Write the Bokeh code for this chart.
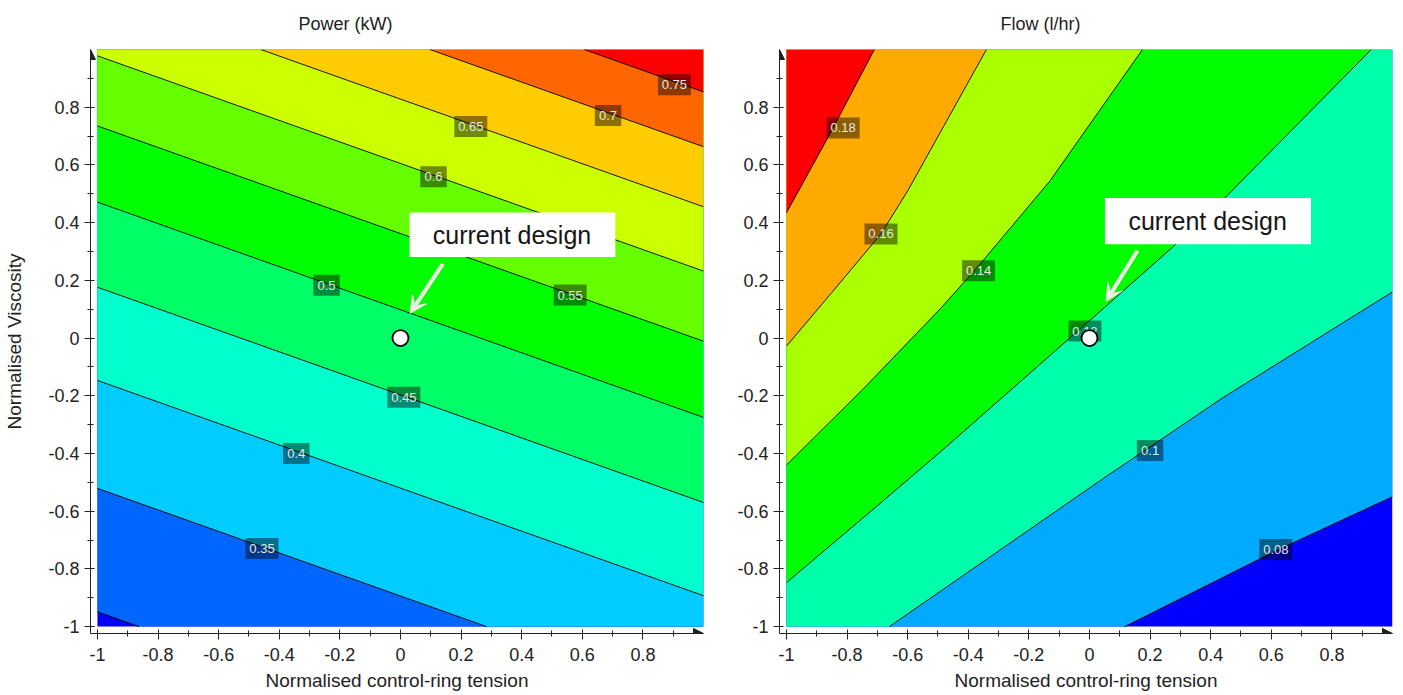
import numpy as np
from bokeh.plotting import figure
from bokeh.layouts import row
from bokeh.models import (Range1d, FixedTicker, CustomJSTickFormatter, Arrow,
                          NormalHead, VeeHead, ColumnDataSource, Label)
from bokeh.embed import file_html
from bokeh.resources import INLINE
from bokeh.core.properties import value

# ---------------- data ----------------
# Power (kW): contour lines, each as a list of points (data units)
power_levels = [0.30, 0.35, 0.40, 0.45, 0.50, 0.55, 0.60, 0.65, 0.70, 0.75]
power_line_x = [[-1.0, -0.863], [-1.0, 0.284], [-1.0, 1.0], [-1.0, 1.0], [-1.0, 1.0],
                [-1.0, 1.0], [-1.0, 1.0], [-0.461, 1.0], [0.097, 1.0], [0.606, 1.0]]
power_line_y = [[-0.949, -1.0], [-0.521, -1.0], [-0.147, -0.893], [0.176, -0.570],
                [0.471, -0.275], [0.735, -0.011], [0.978, 0.232], [1.0, 0.455],
                [1.0, 0.663], [1.0, 0.853]]
power_band_colors = ["#0000ff", "#0066ff", "#00ccff", "#00ffcc", "#00ff66", "#00ff00",
                     "#66ff00", "#ccff00", "#ffcc00", "#ff6600", "#ff0000"]
power_label_text = ["0.35", "0.4", "0.45", "0.5", "0.55", "0.6", "0.65", "0.7", "0.75"]
power_label_x = [-0.457, -0.344, 0.011, -0.244, 0.560, 0.109, 0.232, 0.685, 0.904]
power_label_y = [-0.729, -0.400, -0.205, 0.183, 0.149, 0.559, 0.733, 0.771, 0.878]

# Flow (l/hr)
flow_levels = [0.08, 0.10, 0.12, 0.14, 0.16, 0.18]
flow_line_x = [[0.117, 0.62, 1.0],
               [-0.66, 0.031, 0.44, 1.0],
               [-1.0, -0.682, -0.489, 0.0, 0.285, 0.449, 0.93],
               [-1.0, -0.75, -0.489, -0.366, -0.13, 0.175],
               [-1.0, -0.85, -0.688, -0.60, -0.47, -0.34],
               [-1.0, -0.85, -0.71]]
flow_line_y = [[-1.0, -0.735, -0.55],
               [-1.0, -0.497, -0.207, 0.16],
               [-0.848, -0.565, -0.392, 0.06, 0.325, 0.488, 1.0],
               [-0.44, -0.18, 0.105, 0.25, 0.545, 1.0],
               [-0.028, 0.158, 0.361, 0.51, 0.755, 1.0],
               [0.434, 0.72, 1.0]]
flow_band_colors = ["#0000ff", "#00aaff", "#00ffaa", "#00ff00", "#aaff00", "#ffaa00", "#ff0000"]
flow_label_text = ["0.08", "0.1", "0.12", "0.14", "0.16", "0.18"]
flow_label_x = [0.615, 0.200, -0.015, -0.366, -0.688, -0.813]
flow_label_y = [-0.733, -0.390, 0.024, 0.233, 0.361, 0.728]

# current design point and its callout
design_x = [0.0]
design_y = [0.0]
power_box = dict(left=0.030, right=0.709, bottom=0.281, top=0.435)
power_text_xy = (0.368, 0.358)
power_arrow = (0.140, 0.257, 0.032, 0.086)
flow_box = dict(left=0.051, right=0.731, bottom=0.325, top=0.485)
flow_text_xy = (0.390, 0.405)
flow_arrow = (0.158, 0.302, 0.055, 0.128)

power_title = "Power (kW)"
flow_title = "Flow (l/hr)"

major_ticks = [-1.0, -0.8, -0.6, -0.4, -0.2, 0.0, 0.2, 0.4, 0.6, 0.8]
minor_ticks = [-0.9, -0.7, -0.5, -0.3, -0.1, 0.1, 0.3, 0.5, 0.7, 0.9]

# ---------------- helpers ----------------
X_START, Y_START = -1.023, -1.024
FONT = "Liberation Sans"


def perimeter_t(x, y):
    if abs(y + 1.0) < 1e-9:
        return x + 1.0
    if abs(x - 1.0) < 1e-9:
        return 2.0 + (y + 1.0)
    if abs(y - 1.0) < 1e-9:
        return 4.0 + (1.0 - x)
    return 6.0 + (1.0 - y)


CORNERS = [(-1.0, -1.0, 0.0), (1.0, -1.0, 2.0), (1.0, 1.0, 4.0), (-1.0, 1.0, 6.0)]


def high_side(xs, ys):
    """Region to the left of the contour line (higher values), closed along the border."""
    ta = perimeter_t(xs[0], ys[0])
    tb = perimeter_t(xs[-1], ys[-1])
    span = (ta - tb) % 8.0
    cs = sorted(((t - tb) % 8.0, cx, cy) for cx, cy, t in CORNERS if 0 < (t - tb) % 8.0 < span)
    px, py = list(xs), list(ys)
    for _, cx, cy in cs:
        px.append(cx)
        py.append(cy)
    return px, py


def make_panel(title, title_offset, lx, ly, colors, lab_t, lab_x, lab_y, box, text_xy, arrow,
               width, border_left, border_right, ylabel):
    p = figure(width=width, height=695, x_range=Range1d(X_START, 1.0),
               y_range=Range1d(Y_START, 1.0), output_backend="svg", toolbar_location=None,
               min_border_left=border_left, min_border_right=border_right,
               min_border_top=48, min_border_bottom=62, title=title)
    p.title.align = "left"
    p.title.offset = title_offset
    p.title.standoff = 27
    p.title.vertical_align = "top"
    p.title.text_font = FONT
    p.title.text_font_size = "18px"
    p.title.text_font_style = "normal"
    p.title.text_color = "#222222"
    p.grid.visible = False
    p.outline_line_color = None
    p.background_fill_color = "white"

    # filled bands
    p.quad(left=[-1.0], right=[1.0], bottom=[-1.0], top=[1.0], fill_color=colors[0], line_color=None)
    pxs, pys = [], []
    for xs, ys in zip(lx, ly):
        a, b = high_side(xs, ys)
        pxs.append(a)
        pys.append(b)
    p.patches(xs=pxs, ys=pys, fill_color=colors[1:], line_color=None)
    p.multi_line(xs=lx, ys=ly, line_color="black", line_width=1, line_alpha=0.9)

    # contour labels
    src = ColumnDataSource(dict(x=lab_x, y=lab_y, t=lab_t, w=[7 + 6.5 * len(s) for s in lab_t]))
    p.rect(x="x", y="y", width="w", height=21, width_units="screen", height_units="screen",
           fill_color="black", fill_alpha=0.45, line_color=None, source=src)
    p.text(x="x", y="y", text="t", text_font=value(FONT), text_font_size="13px",
           text_color="#e8e8e8", text_align="center", text_baseline="middle", source=src)

    # callout
    p.quad(left=[box["left"]], right=[box["right"]], bottom=[box["bottom"]], top=[box["top"]],
           fill_color="white", line_color=None)
    p.add_layout(Label(x=text_xy[0], y=text_xy[1], text="current design", text_font=FONT,
                       text_font_size="25px", text_color="#151515", text_align="center",
                       text_baseline="middle"))
    ac = "#eeece4"
    p.add_layout(Arrow(end=VeeHead(size=17, fill_color=ac, line_color=ac),
                       x_start=arrow[0], y_start=arrow[1], x_end=arrow[2], y_end=arrow[3],
                       line_color=ac, line_width=4))
    p.scatter(design_x, design_y, size=16, fill_color="white", line_color="black", line_width=1.8)

    # axes
    for ax in (p.xaxis[0], p.yaxis[0]):
        ax.ticker = FixedTicker(ticks=major_ticks, minor_ticks=minor_ticks)
        ax.formatter = CustomJSTickFormatter(code="return (Math.round(tick*10)/10).toString();")
        ax.major_label_text_font = FONT
        ax.major_label_text_font_size = "18px"
        ax.major_label_text_color = "#222222"
        ax.axis_label_text_font = FONT
        ax.axis_label_text_font_size = "19px"
        ax.axis_label_text_font_style = "normal"
        ax.axis_label_text_color = "#222222"
        ax.axis_line_color = "#222222"
        ax.major_tick_line_color = "#222222"
        ax.minor_tick_line_color = "#222222"
        ax.major_tick_in = 4
        ax.major_tick_out = 6
        ax.minor_tick_in = 3
        ax.minor_tick_out = 3
    p.xaxis[0].axis_label = "Normalised control-ring tension"
    p.xaxis[0].major_label_standoff = 8
    p.xaxis[0].axis_label_standoff = 6
    p.yaxis[0].major_label_standoff = 5
    if ylabel:
        p.yaxis[0].axis_label = ylabel
        p.yaxis[0].axis_label_standoff = 20

    # axis arrowheads
    p.add_layout(Arrow(end=NormalHead(size=10, fill_color="#222222", line_color="#222222"),
                       x_start=0.95, y_start=Y_START, x_end=1.0, y_end=Y_START,
                       line_color="#222222", line_width=1))
    p.add_layout(Arrow(end=NormalHead(size=10, fill_color="#222222", line_color="#222222"),
                       x_start=X_START, y_start=0.95, x_end=X_START, y_end=1.0,
                       line_color="#222222", line_width=1))
    return p


left = make_panel(power_title, 208, power_line_x, power_line_y, power_band_colors,
                  power_label_text, power_label_x, power_label_y,
                  power_box, power_text_xy, power_arrow,
                  width=720, border_left=90, border_right=17, ylabel="Normalised Viscosity")
right = make_panel(flow_title, 221, flow_line_x, flow_line_y, flow_band_colors,
                   flow_label_text, flow_label_x, flow_label_y,
                   flow_box, flow_text_xy, flow_arrow,
                   width=683, border_left=59, border_right=11, ylabel=None)

layout = row(left, right)
open("out.html", "w").write(file_html(layout, INLINE))
